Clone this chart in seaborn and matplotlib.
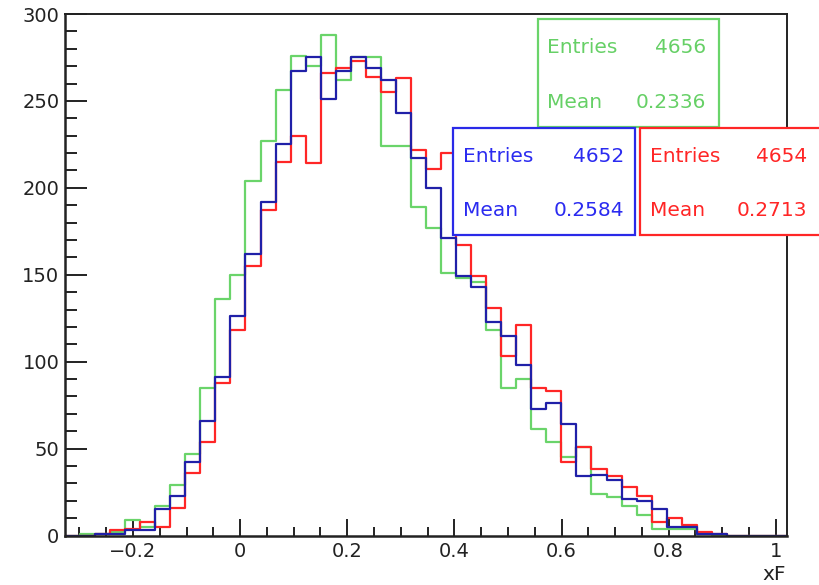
import numpy as np
import pandas as pd
import matplotlib
matplotlib.use("Agg")
import matplotlib.pyplot as plt
from matplotlib.ticker import MultipleLocator, FuncFormatter
from matplotlib.patches import Rectangle
import seaborn as sns

# bin edges of the xF histograms (48 bins)
bin_lo, bin_hi, n_bins = -0.327, 1.021, 48

green_counts = [0, 1, 1, 2, 9, 5, 17, 29, 47, 85, 136, 150, 204, 227, 256, 276,
                270, 288, 262, 275, 275, 224, 224, 189, 177, 151, 148, 146, 118, 85, 90, 61,
                54, 45, 51, 24, 22, 17, 12, 4, 4, 4, 1, 0, 0, 0, 0, 0]
blue_counts = [0, 0, 1, 1, 3, 3, 15, 23, 42, 66, 91, 126, 162, 192, 225, 267,
               275, 251, 267, 275, 269, 262, 243, 217, 200, 171, 149, 143, 123, 115, 98, 73,
               76, 64, 34, 35, 32, 21, 20, 15, 5, 5, 1, 1, 0, 0, 0, 0]
red_counts = [0, 0, 1, 3, 4, 8, 5, 16, 36, 54, 88, 118, 155, 187, 215, 230,
              214, 266, 269, 273, 264, 255, 263, 222, 211, 220, 167, 149, 131, 103, 121, 85,
              83, 42, 51, 38, 34, 28, 23, 8, 10, 6, 2, 1, 0, 0, 0, 0]

series_names = ["green", "red", "blue"]
entries = {"green": 4656, "blue": 4652, "red": 4654}
means = {"green": 0.2336, "blue": 0.2584, "red": 0.2713}

line_col = {"green": "#6ad46a", "blue": "#2020a8", "red": "#ff2626"}
text_col = {"green": "#66d066", "blue": "#2b2bf0", "red": "#ff2626"}

edges = np.linspace(bin_lo, bin_hi, n_bins + 1)
centers = 0.5 * (edges[:-1] + edges[1:])

sns.set_style("ticks")
plt.rcParams["font.family"] = ["DejaVu Sans"]

fig = plt.figure(figsize=(8.19, 5.85), dpi=100)
W, H = 819, 585
ax = fig.add_axes([65 / W, 1 - 535.5 / H, (787 - 65) / W, (535.5 - 14) / H])

counts = {"green": green_counts, "blue": blue_counts, "red": red_counts}
for name in series_names:
    df = pd.DataFrame({"xF": centers, "n": counts[name]})
    sns.histplot(data=df, x="xF", weights="n", bins=edges.tolist(), element="step",
                 fill=False, color=line_col[name], linewidth=1.6, ax=ax)

ax.set_xlim(bin_lo, bin_hi)
ax.set_ylim(0, 300)
ax.set_xlabel("")
ax.set_ylabel("")

ax.xaxis.set_major_locator(MultipleLocator(0.2))
ax.xaxis.set_minor_locator(MultipleLocator(0.05))
ax.yaxis.set_major_locator(MultipleLocator(50))
ax.yaxis.set_minor_locator(MultipleLocator(10))
ax.xaxis.set_major_formatter(FuncFormatter(lambda v, p: ("%g" % round(v, 2)).replace("-", "\u2212")))
ax.tick_params(axis="x", which="major", direction="in", length=12, width=1.4,
               labelsize=14, pad=4.5, colors="#222222")
ax.tick_params(axis="x", which="minor", direction="in", length=6.5, width=1.4, colors="#222222")
ax.tick_params(axis="y", which="major", direction="in", length=16, width=1.4,
               labelsize=14, pad=4, colors="#222222")
ax.tick_params(axis="y", which="minor", direction="in", length=8.5, width=1.4, colors="#222222")
for s in ["left", "bottom"]:
    ax.spines[s].set_linewidth(1.8)
    ax.spines[s].set_color("#222222")
for s in ["top", "right"]:
    ax.spines[s].set_visible(True)
    ax.spines[s].set_linewidth(1.4)
    ax.spines[s].set_color("#222222")

fig.text(786 / W, 1 - 580 / H, "xF", ha="right", va="baseline", fontsize=14.5, color="#222222")

# stat boxes (pixel layout of the ROOT stats panels)
boxes = {
    "green": (537.7, 19.3, 719, 126.7, 546.7, 706, 53.3, 108.3),
    "red": (640, 127.7, 822, 235, 650, 807.3, 161.7, 216),
    "blue": (453.3, 127.7, 635, 235, 462.7, 624, 161.7, 216),
}
for name in series_names:
    x0, y0, x1, y1, tl, tr, b1, b2 = boxes[name]
    fig.patches.append(Rectangle((x0 / W, 1 - y1 / H), (x1 - x0) / W, (y1 - y0) / H,
                                 transform=fig.transFigure, facecolor="white",
                                 edgecolor=line_col[name] if name != "blue" else "#2a2ae8",
                                 linewidth=1.6, zorder=5))
    c = text_col[name]
    fig.text(tl / W, 1 - b1 / H, "Entries", ha="left", va="baseline", fontsize=14.5, color=c, zorder=6)
    fig.text(tr / W, 1 - b1 / H, f"{entries[name]}", ha="right", va="baseline", fontsize=14.5, color=c, zorder=6)
    fig.text(tl / W, 1 - b2 / H, "Mean", ha="left", va="baseline", fontsize=14.5, color=c, zorder=6)
    fig.text(tr / W, 1 - b2 / H, f"{means[name]:.4f}", ha="right", va="baseline", fontsize=14.5, color=c, zorder=6)

fig.savefig("out.png", dpi=100)
plt.close(fig)
